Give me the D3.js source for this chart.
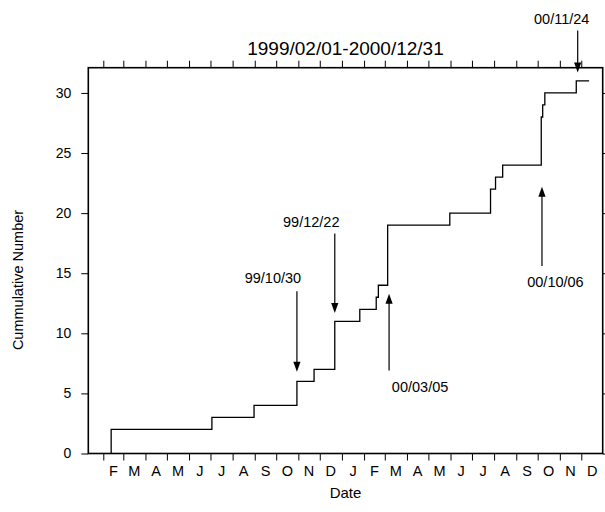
<!DOCTYPE html>
<html>
<head>
<meta charset="utf-8">
<script src="https://cdn.jsdelivr.net/npm/d3@7"></script>
<style>
  html, body { margin: 0; padding: 0; background: #fff; }
  svg { display: block; }
  text { font-family: "Liberation Sans", Arial, Helvetica, sans-serif; fill: #000; }
</style>
</head>
<body>
<svg id="chart" width="605" height="512"></svg>
<script>
// Event dates and the cumulative count reached on each date
const eventDates = [
  "1999-02-12", "1999-07-03", "1999-08-31", "1999-10-30", "1999-11-23",
  "1999-12-22", "2000-01-26", "2000-02-18", "2000-02-21", "2000-03-05",
  "2000-05-31", "2000-07-27", "2000-08-03", "2000-08-13", "2000-10-06",
  "2000-10-08", "2000-10-11", "2000-11-24", "2000-12-12"
];
const cumulative = [
  2, 3, 4, 6, 7,
  11, 12, 13, 14, 19,
  20, 22, 23, 24, 28,
  29, 30, 31, 31
];

// Month initials shown under the time axis (Feb 1999 .. Dec 2000)
const monthLetters = [
  "F", "M", "A", "M", "J", "J", "A", "S", "O", "N", "D",
  "J", "F", "M", "A", "M", "J", "J", "A", "S", "O", "N", "D"
];
const yTicks = [0, 5, 10, 15, 20, 25, 30];

// Annotated events: arrow runs from "from" to "to" (count units)
const noteLabels = ["99/10/30", "99/12/22", "00/03/05", "00/10/06", "00/11/24"];
const noteDates  = ["1999-10-30", "1999-12-22", "2000-03-07", "2000-10-07", "2000-11-26"];
const noteFrom   = [13.5, 18.3, 6.9, 15.6, 35.2];
const noteTo     = [6.8, 11.7, 13.3, 22.2, 31.7];

const title = "1999/02/01-2000/12/31";
const xTitle = "Date";
const yTitle = "Cummulative Number";

// ---- layout ----
const plotLeft = 88.3, plotRight = 602.7, plotTop = 67.7, plotBottom = 453.5;
const parse = d3.utcParse("%Y-%m-%d");

const x = d3.scaleUtc()
  .domain([Date.UTC(1999, 0, 11), Date.UTC(2000, 11, 31)])
  .range([plotLeft, plotRight]);
const y = d3.scaleLinear()
  .domain([0, 32.1])
  .range([plotBottom, plotTop]);

const svg = d3.select("#chart");

// month boundaries inside the domain
const monthStarts = d3.utcMonth.range(Date.UTC(1999, 1, 1), Date.UTC(2001, 0, 1));

// bottom axis ticks
svg.append("g")
  .attr("transform", `translate(0,${plotBottom})`)
  .call(d3.axisBottom(x).tickValues(monthStarts).tickFormat("").tickSize(7).tickSizeOuter(0))
  .call(g => g.select(".domain").remove())
  .call(g => g.selectAll("line").attr("stroke", "#000").attr("stroke-width", 1));

// top axis ticks
svg.append("g")
  .attr("transform", `translate(0,${plotTop})`)
  .call(d3.axisTop(x).tickValues(monthStarts).tickFormat("").tickSize(7).tickSizeOuter(0))
  .call(g => g.select(".domain").remove())
  .call(g => g.selectAll("line").attr("stroke", "#000").attr("stroke-width", 1));

// left axis
svg.append("g")
  .attr("transform", `translate(${plotLeft},0)`)
  .call(d3.axisLeft(y).tickValues(yTicks).tickSize(7).tickPadding(10).tickSizeOuter(0))
  .call(g => g.select(".domain").remove())
  .call(g => g.selectAll("line").attr("stroke", "#000").attr("stroke-width", 1))
  .call(g => g.selectAll("text")
    .style("font-family", '"Liberation Sans", Arial, sans-serif')
    .style("font-size", "14px").attr("fill", "#000"));

// right axis ticks
svg.append("g")
  .attr("transform", `translate(${plotRight},0)`)
  .call(d3.axisRight(y).tickValues(yTicks).tickFormat("").tickSize(7).tickSizeOuter(0))
  .call(g => g.select(".domain").remove())
  .call(g => g.selectAll("line").attr("stroke", "#000").attr("stroke-width", 1));

// month letters centred within each month
svg.append("g").selectAll("text")
  .data(monthStarts)
  .join("text")
  .attr("x", d => (x(d) + x(d3.utcMonth.offset(d, 1))) / 2)
  .attr("y", 476)
  .attr("text-anchor", "middle")
  .style("font-size", "14.5px")
  .text((d, i) => monthLetters[i]);

// frame
svg.append("rect")
  .attr("x", plotLeft).attr("y", plotTop)
  .attr("width", plotRight - plotLeft).attr("height", plotBottom - plotTop)
  .attr("fill", "none").attr("stroke", "#000").attr("stroke-width", 1.6);

// cumulative step curve
const points = [{ date: parse(eventDates[0]), value: 0 }]
  .concat(eventDates.map((d, i) => ({ date: parse(d), value: cumulative[i] })));

const step = d3.line()
  .x(d => x(d.date))
  .y(d => y(d.value))
  .curve(d3.curveStepAfter);

svg.append("path")
  .datum(points)
  .attr("d", step)
  .attr("fill", "none")
  .attr("stroke", "#000")
  .attr("stroke-width", 1.3);

// annotation arrows and their date labels
const labelShift = [
  { dx: -24, dy: -8.5 },
  { dx: -23.5, dy: -7 },
  { dx: 31, dy: 21 },
  { dx: 13.5, dy: 21 },
  { dx: -16, dy: -6 }
];
const headLen = 10, headHalf = 3.6;

noteLabels.forEach((label, i) => {
  const ax = x(parse(noteDates[i]));
  const y0 = y(noteFrom[i]);
  const y1 = y(noteTo[i]);
  const dir = y1 > y0 ? 1 : -1;
  const g = svg.append("g");
  g.append("line")
    .attr("x1", ax).attr("x2", ax)
    .attr("y1", y0).attr("y2", y1 - dir * headLen * 0.8)
    .attr("stroke", "#000").attr("stroke-width", 1.2);
  g.append("path")
    .attr("d", `M${ax},${y1}L${ax - headHalf},${y1 - dir * headLen}L${ax + headHalf},${y1 - dir * headLen}Z`)
    .attr("fill", "#000");
  g.append("text")
    .attr("x", ax + labelShift[i].dx)
    .attr("y", y0 + labelShift[i].dy)
    .attr("text-anchor", "middle")
    .style("font-size", "14.5px")
    .text(label);
});

// titles
svg.append("text")
  .attr("x", (plotLeft + plotRight) / 2).attr("y", 55)
  .attr("text-anchor", "middle")
  .style("font-size", "19px")
  .text(title);

svg.append("text")
  .attr("x", (plotLeft + plotRight) / 2).attr("y", 498)
  .attr("text-anchor", "middle")
  .style("font-size", "15px")
  .text(xTitle);

svg.append("text")
  .attr("transform", `translate(23,280) rotate(-90)`)
  .attr("text-anchor", "middle")
  .style("font-size", "14.5px")
  .text(yTitle);
</script>
</body>
</html>
